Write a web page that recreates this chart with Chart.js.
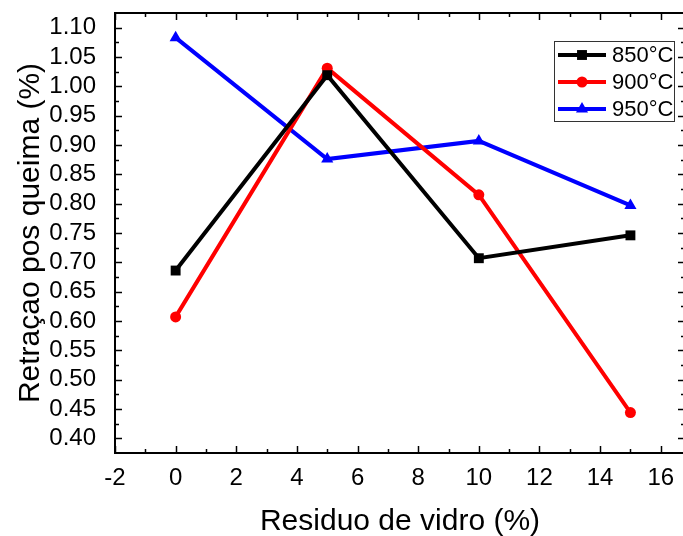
<!DOCTYPE html>
<html>
<head>
<meta charset="utf-8">
<script src="https://cdn.jsdelivr.net/npm/chart.js@4/dist/chart.umd.min.js"></script>
<style>
  body { margin: 0; overflow: hidden; background: #fff; }
  #caixa { width: 700px; height: 536px; position: relative; }
</style>
</head>
<body>
<div id="caixa"><canvas id="grafico"></canvas></div>
<script>
// Valores
const residuo = [0, 5, 10, 15];
const serie850 = [0.686, 1.019, 0.707, 0.746];
const serie900 = [0.607, 1.031, 0.815, 0.444];
const serie950 = [1.083, 0.876, 0.907, 0.797];
const rotulos = ["850°C", "900°C", "950°C"];
const ticksX = [-2, 0, 2, 4, 6, 8, 10, 12, 14, 16];
const ticksY = [0.40, 0.45, 0.50, 0.55, 0.60, 0.65, 0.70, 0.75, 0.80, 0.85, 0.90, 0.95, 1.00, 1.05, 1.10];

const fonte = "Arial, 'Liberation Sans', sans-serif";

function pontos(valores) {
    return residuo.map((x, i) => ({ x: x, y: valores[i] }));
}

// moldura + ticks para dentro (estilo Origin) + legenda
const moldura = {
    id: 'moldura',
    afterDraw(chart) {
        const ctx = chart.ctx;
        const a = chart.chartArea;
        const sx = chart.scales.x, sy = chart.scales.y;
        ctx.save();
        ctx.strokeStyle = '#000';
        ctx.lineWidth = 2;
        ctx.strokeRect(a.left, a.top, a.right - a.left, a.bottom - a.top);

        ctx.lineWidth = 1.5;
        const tick = (x1, y1, x2, y2) => { ctx.beginPath(); ctx.moveTo(x1, y1); ctx.lineTo(x2, y2); ctx.stroke(); };
        // x
        for (let i = 0; i < ticksX.length; i++) {
            const px = Math.round(sx.getPixelForValue(ticksX[i])) + 0.5;
            tick(px, a.bottom, px, a.bottom - 7);
            tick(px, a.top, px, a.top + 7);
            const m = ticksX[i] + (ticksX[1] - ticksX[0]) / 2;
            const pm = Math.round(sx.getPixelForValue(m)) + 0.5;
            tick(pm, a.bottom, pm, a.bottom - 4);
            tick(pm, a.top, pm, a.top + 4);
        }
        // y
        for (let i = 0; i < ticksY.length; i++) {
            const py = Math.round(sy.getPixelForValue(ticksY[i])) + 0.5;
            tick(a.left, py, a.left + 7, py);
            tick(a.right, py, a.right - 7, py);
            const m = ticksY[i] + (ticksY[1] - ticksY[0]) / 2;
            if (m < sy.max) {
                const pm = Math.round(sy.getPixelForValue(m)) + 0.5;
                tick(a.left, pm, a.left + 4, pm);
                tick(a.right, pm, a.right - 4, pm);
            }
            if (i === 0) {
                const m0 = ticksY[0] - (ticksY[1] - ticksY[0]) / 2;
                if (m0 > sy.min) {
                    const p0 = Math.round(sy.getPixelForValue(m0)) + 0.5;
                    tick(a.left, p0, a.left + 4, p0);
                    tick(a.right, p0, a.right - 4, p0);
                }
            }
        }

        // legenda
        const lx = 554, ly = 41, lw = 120, lh = 80;
        ctx.fillStyle = '#fff';
        ctx.fillRect(lx, ly, lw, lh);
        ctx.strokeStyle = '#333';
        ctx.lineWidth = 1;
        ctx.strokeRect(lx + 0.5, ly + 0.5, lw, lh);
        chart.data.datasets.forEach((ds, i) => {
            const y = ly + 14 + i * 27;
            ctx.strokeStyle = ds.borderColor;
            ctx.lineWidth = ds.borderWidth;
            ctx.beginPath(); ctx.moveTo(lx + 4, y); ctx.lineTo(lx + 52, y); ctx.stroke();
            ctx.fillStyle = ds.backgroundColor;
            Chart.helpers.drawPoint(ctx, { pointStyle: ds.pointStyle, radius: ds.pointRadius, rotation: 0, borderWidth: 0 }, lx + 28, y);
            ctx.fillStyle = '#000';
            ctx.font = '22px ' + fonte;
            ctx.textBaseline = 'middle';
            ctx.textAlign = 'left';
            ctx.fillText(ds.label, lx + 58, y + 1);
        });
        ctx.restore();
    }
};

function criarGraficoLinhas(id) {
    return new Chart(id, {
        type: 'line',
        data: {
            datasets: [
                { label: rotulos[0], data: pontos(serie850), borderColor: '#000000', backgroundColor: '#000000', pointStyle: 'rect', pointRadius: 7 },
                { label: rotulos[1], data: pontos(serie900), borderColor: '#ff0000', backgroundColor: '#ff0000', pointStyle: 'circle', pointRadius: 5.5 },
                { label: rotulos[2], data: pontos(serie950), borderColor: '#0000ff', backgroundColor: '#0000ff', pointStyle: 'triangle', pointRadius: 7 }
            ].map(d => Object.assign(d, { borderWidth: 4, pointBorderWidth: 0, lineTension: 0, fill: false }))
        },
        options: {
            responsive: true,
            maintainAspectRatio: false,
            animation: false,
            layout: { padding: { top: 13, right: 15, left: 0, bottom: 0 } },
            plugins: { legend: { display: false }, tooltip: { enabled: false } },
            scales: {
                x: {
                    type: 'linear',
                    min: -2, max: 16.8,
                    afterBuildTicks: s => { s.ticks = ticksX.map(v => ({ value: v })); },
                    afterFit: s => { s.height = 83; s.paddingLeft = 0; s.paddingRight = 0; },
                    grid: { display: false },
                    border: { display: false },
                    ticks: { color: '#000', font: { family: fonte, size: 24 }, padding: 3, maxRotation: 0, autoSkip: false },
                    title: { display: true, text: 'Residuo de vidro (%)', color: '#000', font: { family: fonte, size: 30 }, padding: { top: 0, bottom: -4 } }
                },
                y: {
                    type: 'linear',
                    min: 0.375, max: 1.125,
                    afterBuildTicks: s => { s.ticks = ticksY.map(v => ({ value: v })); },
                    afterFit: s => { s.width = 115; s.paddingTop = 0; s.paddingBottom = 0; },
                    grid: { display: false },
                    border: { display: false },
                    ticks: { color: '#000', font: { family: fonte, size: 24 }, padding: 11, autoSkip: false, callback: v => v.toFixed(2) },
                    title: { display: true, text: 'Retraçao pos queima (%)', color: '#000', font: { family: fonte, size: 30 }, padding: { top: 13, bottom: 0 } }
                }
            }
        },
        plugins: [moldura]
    });
}

criarGraficoLinhas('grafico');
</script>
</body>
</html>
